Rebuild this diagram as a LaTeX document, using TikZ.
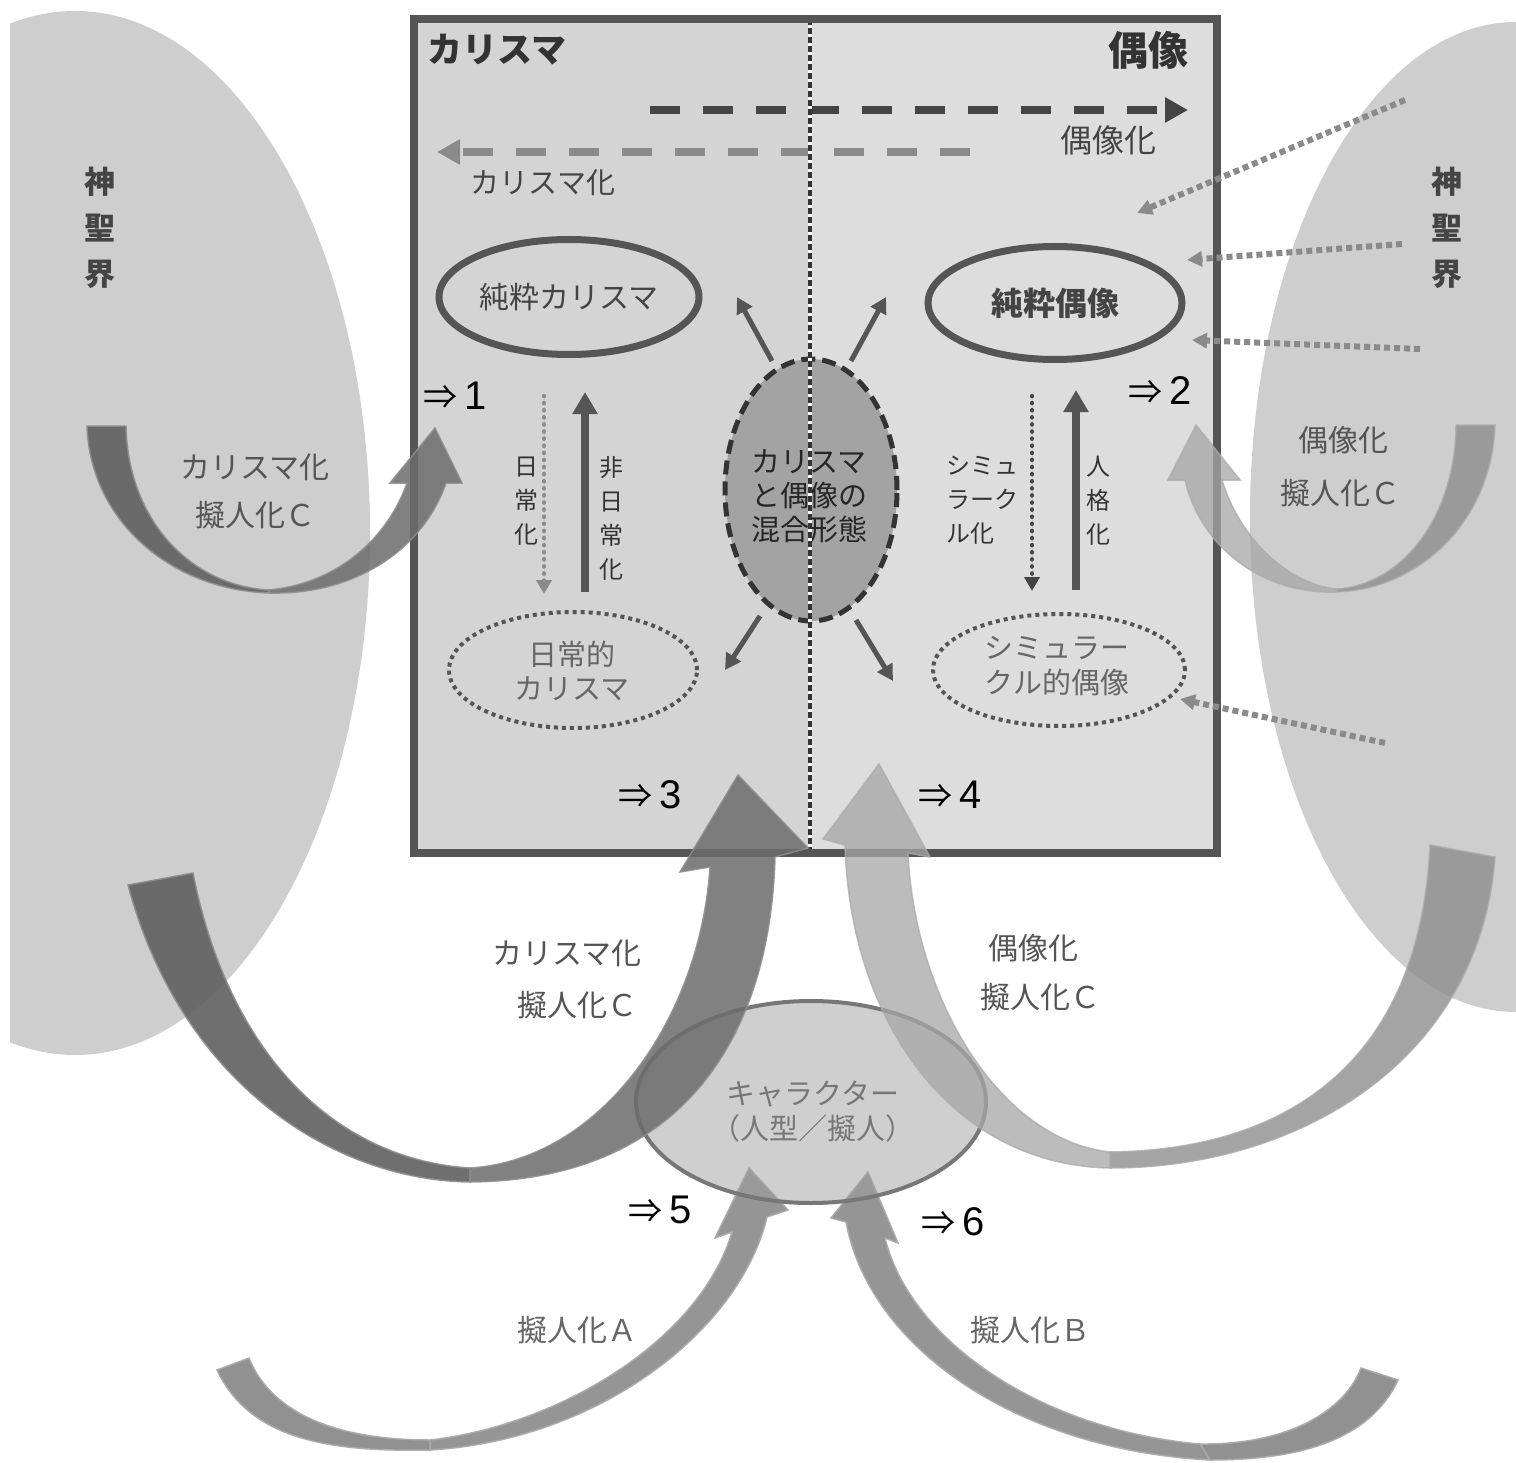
\documentclass[tikz,border=0pt]{standalone}
\usepackage{fontspec}
\setmainfont{Noto Sans CJK JP}
\newfontfamily\numfont{Liberation Sans}
\usetikzlibrary{arrows.meta,shapes.geometric}
\definecolor{cSacred}{HTML}{CECECE}
\definecolor{cBoxL}{HTML}{D4D4D4}
\definecolor{cBoxR}{HTML}{DDDDDD}
\definecolor{cBorder}{HTML}{555555}
\definecolor{cTitle}{HTML}{333333}
\definecolor{cText}{HTML}{444444}
\definecolor{cLabel}{HTML}{555555}
\definecolor{cSoft}{HTML}{666666}
\definecolor{cDot}{HTML}{8A8A8A}
\definecolor{cMix}{HTML}{A3A3A3}
\definecolor{cChar}{HTML}{A0A0A0}
\definecolor{cCharLine}{HTML}{777777}
\definecolor{cDarkTail}{HTML}{606060}
\definecolor{cDarkBody}{HTML}{6C6C6C}
\definecolor{cLightTail}{HTML}{8E8E8E}
\definecolor{cLightBody}{HTML}{A6A6A6}
\definecolor{cBot}{HTML}{8C8C8C}
\definecolor{cEdge}{HTML}{8E8E8E}
\definecolor{cEdgeL}{HTML}{ABABAB}
\begin{document}
\begin{tikzpicture}[x=1pt,y=-1pt,
  every node/.style={inner sep=0pt,outer sep=0pt},
  lab/.style={text=cLabel,font=\fontsize{30}{30}\selectfont},
  blab/.style={text=cSoft,font=\fontsize{30}{30}\selectfont},
  vlab/.style={align=center,text=cTitle,font=\fontsize{24}{34}\selectfont},
  numlab/.style={text=black,font=\fontsize{40}{40}\selectfont},
  holy/.style={align=center,text=cText,font=\fontsize{31}{46}\selectfont\bfseries},
  dotarrow/.style={draw=cDot,line width=6pt,dash pattern=on 6pt off 4pt,-{Triangle[length=15pt,width=15pt]}},
  smallarrow/.style={draw=cBorder,line width=5pt,-{Triangle[length=16pt,width=17pt]}},
  uparrow/.style={draw=cBorder,line width=8pt,-{Triangle[length=22pt,width=24pt]}},
  dotdown/.style={line width=4.5pt,line cap=round,dash pattern=on 0.1pt off 7pt,-{Triangle[length=14pt,width=15pt,line cap=butt]}},
  dtail/.style={fill=cDarkTail,draw=cEdge,line width=1.5pt,opacity=0.9},
  dbody/.style={fill=cDarkBody,draw=cEdge,line width=1.5pt,opacity=0.85},
  ltail/.style={fill=cLightTail,draw=cEdgeL,line width=1.5pt,opacity=0.8},
  lbody/.style={fill=cLightBody,draw=cEdgeL,line width=1.5pt,opacity=0.75},
  btail/.style={fill=cBot,draw=cEdgeL,line width=1.5pt,opacity=0.95},
  bbody/.style={fill=cBot,draw=cEdgeL,line width=1.5pt,opacity=0.92}]
\useasboundingbox (0,0) rectangle (1516,1463);
\fill[white] (0,0) rectangle (1516,1463);

% sacred realms
\begin{scope}
  \clip (10,0) rectangle (1516,1463);
  \fill[cSacred] (75,533) ellipse [x radius=295, y radius=522];
  \fill[cSacred] (1516,517) ellipse [x radius=266, y radius=495];
\end{scope}
\node[holy] (holyL) at (100,228) {神\\聖\\界};
\node[holy] (holyR) at (1447,228) {神\\聖\\界};

% main box
\fill[cBoxL] (414,19) rectangle (810,853);
\fill[cBoxR] (810,19) rectangle (1217,853);

\node[text=cTitle,font=\fontsize{35}{35}\selectfont\bfseries] (tCh) at (497,50) {カリスマ};
\node[text=cTitle,font=\fontsize{40}{40}\selectfont\bfseries] (tId) at (1148,50) {偶像};

% top dashed arrows
\coordinate (idS) at (650,110);
\coordinate (idE) at (1188,110);
\draw[draw=cText,line width=8pt,dash pattern=on 30pt off 23pt,-{Triangle[length=23pt,width=24pt]}] (idS) -- (idE);
\node[text=cText,font=\fontsize{32}{32}\selectfont] (idL) at (1108,140) {偶像化};
\coordinate (chS) at (970,152);
\coordinate (chE) at (437,152);
\draw[draw=cDot,line width=8pt,dash pattern=on 30pt off 23pt,-{Triangle[length=23pt,width=24pt]}] (chS) -- (chE);
\node[text=cText,font=\fontsize{29}{29}\selectfont] (chL) at (543,183) {カリスマ化};

% ellipses
\node[ellipse,draw=cBorder,line width=7pt,minimum width=260pt,minimum height=115pt,text=cText,font=\fontsize{30}{30}\selectfont] (pc) at (569,297) {純粋カリスマ};
\node[ellipse,draw=cBorder,line width=7pt,minimum width=254pt,minimum height=113pt,text=cText,font=\fontsize{32}{32}\selectfont\bfseries] (pi) at (1055,303) {純粋偶像};
\node[ellipse,draw=cBorder,line width=4pt,dash pattern=on 4pt off 4pt,minimum width=248pt,minimum height=116pt] (dc) at (573,670) {};
\node[align=center,text=cSoft,font=\fontsize{29}{34}\selectfont] (dcT) at (572,671) {日常的\\カリスマ};
\node[ellipse,draw=cBorder,line width=4pt,dash pattern=on 4pt off 4pt,minimum width=252pt,minimum height=112pt] (si) at (1059,670) {};
\node[align=center,text=cSoft,font=\fontsize{29}{35}\selectfont] (siT) at (1057,666) {シミュラー\\クル的偶像};

% mixed form
\node[ellipse,fill=cMix,draw=cTitle,line width=5pt,dash pattern=on 14pt off 7pt,minimum width=172pt,minimum height=262pt] (mx) at (811,490) {};
\node[align=center,text=black!85,font=\fontsize{29}{34}\selectfont] (mxT) at (809,496) {カリスマ\\と偶像の\\混合形態};

% small arrows out of mixed form
\coordinate (m1s) at (772,361); \coordinate (m1e) at (737,297);
\coordinate (m2s) at (851,361); \coordinate (m2e) at (886,297);
\coordinate (m3s) at (760,616); \coordinate (m3e) at (725,670);
\coordinate (m4s) at (856,620); \coordinate (m4e) at (893,681);
\draw[smallarrow] (m1s) -- (m1e);
\draw[smallarrow] (m2s) -- (m2e);
\draw[smallarrow] (m3s) -- (m3e);
\draw[smallarrow] (m4s) -- (m4e);

% vertical arrows
\coordinate (v1s) at (544,396); \coordinate (v1e) at (544,594);
\coordinate (v2s) at (585,592); \coordinate (v2e) at (585,392);
\coordinate (v3s) at (1032,396); \coordinate (v3e) at (1032,591);
\coordinate (v4s) at (1076,590); \coordinate (v4e) at (1076,390);
\draw[dotdown,draw=cDot,fill=cDot] (v1s) -- (v1e);
\draw[uparrow] (v2s) -- (v2e);
\draw[dotdown,draw=cText,fill=cText] (v3s) -- (v3e);
\draw[uparrow] (v4s) -- (v4e);
\node[vlab] (v1L) at (526,501) {日\\常\\化};
\node[vlab] (v2L) at (611,518) {非\\日\\常\\化};
\node[vlab,align=left,anchor=west] (v3L) at (946,500) {シミュ\\ラーク\\ル化};
\node[vlab] (v4L) at (1098,501) {人\\格\\化};

% numbered marks
\node[numlab] (n1) at (455,396) {{\fontsize{34}{34}\selectfont ⇒}\,{\numfont 1}};
\node[numlab] (n2) at (1160,391) {{\fontsize{34}{34}\selectfont ⇒}\,{\numfont 2}};
\node[numlab] (n3) at (650,795) {{\fontsize{34}{34}\selectfont ⇒}\,{\numfont 3}};
\node[numlab] (n4) at (950,795) {{\fontsize{34}{34}\selectfont ⇒}\,{\numfont 4}};

% divider and border
\draw[white,line width=4pt] (810,19) -- (810,853);
\draw[cTitle,line width=4pt,dash pattern=on 6pt off 3pt] (810,19) -- (810,853);
\draw[cBorder,line width=8pt] (414,19) rectangle (1217,853);

% dotted arrows from the sacred realm
\coordinate (r1s) at (1405,100); \coordinate (r1e) at (1137,213);
\coordinate (r2s) at (1402,244); \coordinate (r2e) at (1187,260);
\coordinate (r3s) at (1420,349); \coordinate (r3e) at (1192,340);
\coordinate (r4s) at (1385,743); \coordinate (r4e) at (1180,699);
\draw[dotarrow] (r1s) -- (r1e);
\draw[dotarrow] (r2s) -- (r2e);
\draw[dotarrow] (r3s) -- (r3e);
\draw[dotarrow] (r4s) -- (r4e);

% bottom arrows (A, B)
\draw[btail] (217,1370) .. controls (250,1440) and (330,1452) .. (430,1450) -- (430,1440) .. controls (330,1440) and (270,1410) .. (249,1358) -- cycle;
\draw[bbody] (430,1450) .. controls (600,1440) and (740,1330) .. (767,1217) -- (788,1210) -- (749,1168) -- (715,1238) -- (732,1232) .. controls (700,1340) and (560,1425) .. (430,1440) -- cycle;
\draw[btail] (1398,1380) .. controls (1370,1440) and (1300,1460) .. (1210,1460) -- (1200,1444) .. controls (1290,1445) and (1345,1410) .. (1361,1368) -- cycle;
\draw[bbody] (1210,1460) .. controls (1020,1450) and (870,1350) .. (846,1222) -- (831,1218) -- (868,1172) -- (898,1243) -- (885,1238) .. controls (910,1340) and (1040,1430) .. (1200,1444) -- cycle;

% character
\node[ellipse,fill=cChar,fill opacity=0.5,draw=cCharLine,line width=4pt,minimum width=350pt,minimum height=202pt] (ch) at (811,1102) {};
\node[align=center,text=cCharLine,font=\fontsize{29}{35}\selectfont] (chT) at (813,1112) {キャラクター\\（人型／擬人）};
\node[numlab] (n5) at (660,1210) {{\fontsize{34}{34}\selectfont ⇒}\,{\numfont 5}};
\node[numlab] (n6) at (953,1222) {{\fontsize{34}{34}\selectfont ⇒}\,{\numfont 6}};

% small U arrows
\draw[dtail] (87,426) .. controls (90,520) and (170,590) .. (270,593) -- (268,590) .. controls (190,585) and (128,520) .. (126,426) -- cycle;
\draw[dbody] (270,593) .. controls (360,595) and (425,545) .. (446,483) -- (462,483) -- (435,428) -- (390,483) -- (407,483) .. controls (385,545) and (330,585) .. (268,590) -- cycle;
\draw[ltail] (1495,425) .. controls (1492,520) and (1420,590) .. (1335,592) -- (1337,589) .. controls (1400,585) and (1455,520) .. (1456,425) -- cycle;
\draw[lbody] (1335,592) .. controls (1260,594) and (1200,545) .. (1185,480) -- (1168,480) -- (1196,425) -- (1240,480) -- (1222,480) .. controls (1240,540) and (1290,585) .. (1337,589) -- cycle;

% big arrows
\draw[dtail] (128,885) .. controls (180,1080) and (330,1180) .. (470,1182) -- (470,1168) .. controls (340,1160) and (230,1060) .. (193,873) -- cycle;
\draw[dbody] (470,1182) .. controls (680,1180) and (770,1040) .. (775,857) -- (808,848) -- (738,775) -- (680,872) -- (710,867) .. controls (700,1020) and (600,1160) .. (470,1168) -- cycle;
\draw[ltail] (1495,857) .. controls (1480,1060) and (1300,1168) .. (1110,1168) -- (1110,1152) .. controls (1290,1150) and (1420,1060) .. (1430,845) -- cycle;
\draw[lbody] (1110,1168) .. controls (950,1165) and (850,1020) .. (845,845) -- (823,839) -- (879,764) -- (930,857) -- (908,853) .. controls (915,1000) and (1000,1140) .. (1110,1152) -- cycle;

% arrow labels
\node[lab] (aL1) at (255,467) {カリスマ化};
\node[lab] (aL2) at (255,515) {擬人化Ｃ};
\node[lab] (bL1) at (1343,440) {偶像化};
\node[lab] (bL2) at (1340,493) {擬人化Ｃ};
\node[lab] (cL1) at (567,953) {カリスマ化};
\node[lab] (cL2) at (577,1005) {擬人化Ｃ};
\node[lab] (dL1) at (1033,948) {偶像化};
\node[lab] (dL2) at (1040,997) {擬人化Ｃ};
\node[blab] (eL) at (577,1330) {擬人化Ａ};
\node[blab] (fL) at (1030,1330) {擬人化Ｂ};
\end{tikzpicture}
\end{document}
